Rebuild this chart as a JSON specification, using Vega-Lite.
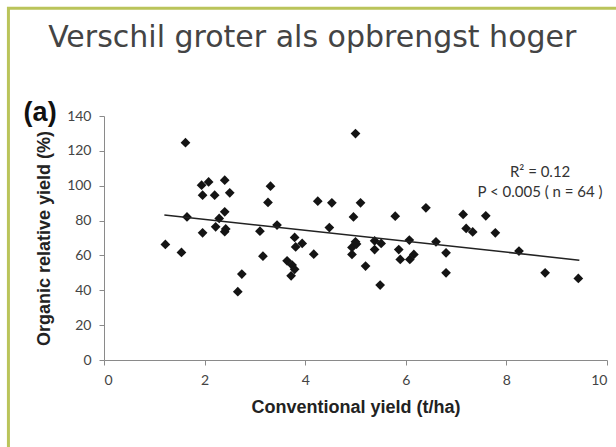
{
  "$schema": "https://vega.github.io/schema/vega-lite/v6.json",
  "width": 503,
  "height": 244,
  "autosize": {"type": "none"},
  "padding": {"left": 104, "top": 116, "right": 9, "bottom": 87},
  "background": "#ffffff",
  "config": {
    "view": {"stroke": null},
    "axis": {
      "grid": false,
      "domainColor": "#8a8a8a",
      "tickColor": "#8a8a8a",
      "tickSize": 5,
      "labelFont": "Lato",
      "labelFontSize": 14,
      "labelColor": "#444444",
      "labelOverlap": false,
      "titleFont": "Liberation Sans",
      "titleFontSize": 18,
      "titleFontWeight": "bold",
      "titleColor": "#222222"
    }
  },
  "resolve": {"axis": {"x": "independent", "y": "independent"}},
  "datasets": {
    "points": [
      {"conv": 1.62, "org": 124.7}, {"conv": 1.94, "org": 100.3}, {"conv": 2.08, "org": 102.2},
      {"conv": 2.40, "org": 103.2}, {"conv": 1.96, "org": 94.6}, {"conv": 2.20, "org": 94.6},
      {"conv": 2.50, "org": 95.9}, {"conv": 1.65, "org": 82.1}, {"conv": 2.40, "org": 85.0},
      {"conv": 2.29, "org": 81.2}, {"conv": 1.96, "org": 73.0}, {"conv": 2.22, "org": 76.4},
      {"conv": 2.40, "org": 73.6}, {"conv": 2.42, "org": 75.2}, {"conv": 1.22, "org": 66.3},
      {"conv": 1.54, "org": 61.7}, {"conv": 2.74, "org": 49.3}, {"conv": 2.66, "org": 39.2},
      {"conv": 5.00, "org": 129.9}, {"conv": 3.31, "org": 99.7}, {"conv": 3.26, "org": 90.4},
      {"conv": 4.25, "org": 91.1}, {"conv": 4.53, "org": 90.2}, {"conv": 5.10, "org": 90.2},
      {"conv": 4.96, "org": 82.1}, {"conv": 3.44, "org": 77.4}, {"conv": 3.10, "org": 73.9},
      {"conv": 4.48, "org": 76.0}, {"conv": 3.79, "org": 70.3}, {"conv": 3.94, "org": 66.9},
      {"conv": 3.81, "org": 64.9}, {"conv": 3.16, "org": 59.6}, {"conv": 4.17, "org": 60.7},
      {"conv": 3.64, "org": 56.9}, {"conv": 3.74, "org": 54.5}, {"conv": 3.79, "org": 52.0},
      {"conv": 3.72, "org": 48.3}, {"conv": 5.00, "org": 67.8}, {"conv": 4.93, "org": 64.6},
      {"conv": 4.93, "org": 60.6}, {"conv": 5.02, "org": 66.5}, {"conv": 5.20, "org": 53.9},
      {"conv": 5.38, "org": 68.4}, {"conv": 5.51, "org": 66.9}, {"conv": 5.38, "org": 63.4},
      {"conv": 5.49, "org": 43.0}, {"conv": 5.79, "org": 82.5}, {"conv": 6.40, "org": 87.3},
      {"conv": 7.14, "org": 83.5}, {"conv": 7.59, "org": 82.7}, {"conv": 7.20, "org": 75.5},
      {"conv": 7.33, "org": 73.5}, {"conv": 7.78, "org": 73.0}, {"conv": 6.07, "org": 68.8},
      {"conv": 6.60, "org": 67.8}, {"conv": 8.25, "org": 62.5}, {"conv": 5.86, "org": 63.4},
      {"conv": 5.89, "org": 57.7}, {"conv": 6.08, "org": 57.7}, {"conv": 6.16, "org": 60.6},
      {"conv": 6.80, "org": 61.5}, {"conv": 6.80, "org": 50.0}, {"conv": 8.77, "org": 50.0},
      {"conv": 9.43, "org": 46.8}
    ],
    "fit": [
      {"conv": 1.2, "org": 83.2},
      {"conv": 9.45, "org": 57.3}
    ],
    "one": [{}]
  },
  "layer": [
    {
      "data": {"name": "points"},
      "mark": {"type": "point", "shape": "diamond", "filled": true, "color": "#141414", "size": 95, "opacity": 1},
      "encoding": {
        "x": {
          "field": "conv", "type": "quantitative",
          "scale": {"domain": [0, 10], "nice": false},
          "axis": {"values": [0, 2, 4, 6, 8, 10], "title": "Conventional yield  (t/ha)", "labelPadding": 8, "titlePadding": 11}
        },
        "y": {
          "field": "org", "type": "quantitative",
          "scale": {"domain": [0, 140], "nice": false},
          "axis": {"values": [0, 20, 40, 60, 80, 100, 120, 140], "title": "Organic relative yield (%)", "labelPadding": 8, "titlePadding": 13}
        }
      }
    },
    {
      "data": {"name": "fit"},
      "mark": {"type": "line", "color": "#222222", "strokeWidth": 1.5},
      "encoding": {
        "x": {"field": "conv", "type": "quantitative", "axis": null},
        "y": {"field": "org", "type": "quantitative", "axis": null}
      }
    },
    {
      "data": {"name": "one"},
      "mark": {"type": "rect", "fill": null, "stroke": "#bac45a", "strokeWidth": 3, "clip": false},
      "encoding": {
        "x": {"datum": -1.9, "type": "quantitative", "axis": null},
        "x2": {"datum": 12},
        "y": {"datum": 201.8, "type": "quantitative", "axis": null},
        "y2": {"datum": -100}
      }
    },
    {
      "data": {"name": "one"},
      "mark": {"type": "text", "font": "Lato", "fontSize": 15, "color": "#333333", "align": "center", "baseline": "middle"},
      "encoding": {
        "x": {"datum": 8.67, "type": "quantitative", "axis": null},
        "y": {"datum": 107.8, "type": "quantitative", "axis": null},
        "text": {"value": "R² = 0.12"}
      }
    },
    {
      "data": {"name": "one"},
      "mark": {"type": "text", "font": "Lato", "fontSize": 15, "color": "#333333", "align": "center", "baseline": "middle"},
      "encoding": {
        "x": {"datum": 8.67, "type": "quantitative", "axis": null},
        "y": {"datum": 96.3, "type": "quantitative", "axis": null},
        "text": {"value": "P < 0.005  ( n = 64 )"}
      }
    },
    {
      "data": {"name": "one"},
      "mark": {"type": "text", "font": "Liberation Sans", "fontSize": 27, "fontWeight": "bold", "color": "#111111", "align": "center", "baseline": "middle", "clip": false},
      "encoding": {
        "x": {"datum": -1.27, "type": "quantitative", "axis": null},
        "y": {"datum": 141.5, "type": "quantitative", "axis": null},
        "text": {"value": "(a)"}
      }
    },
    {
      "data": {"name": "one"},
      "mark": {"type": "text", "font": "DejaVu Sans", "fontSize": 30, "color": "#444444", "align": "center", "baseline": "middle", "clip": false},
      "encoding": {
        "x": {"datum": 4.14, "type": "quantitative", "axis": null},
        "y": {"datum": 184.5, "type": "quantitative", "axis": null},
        "text": {"value": "Verschil groter als opbrengst hoger"}
      }
    }
  ]
}
